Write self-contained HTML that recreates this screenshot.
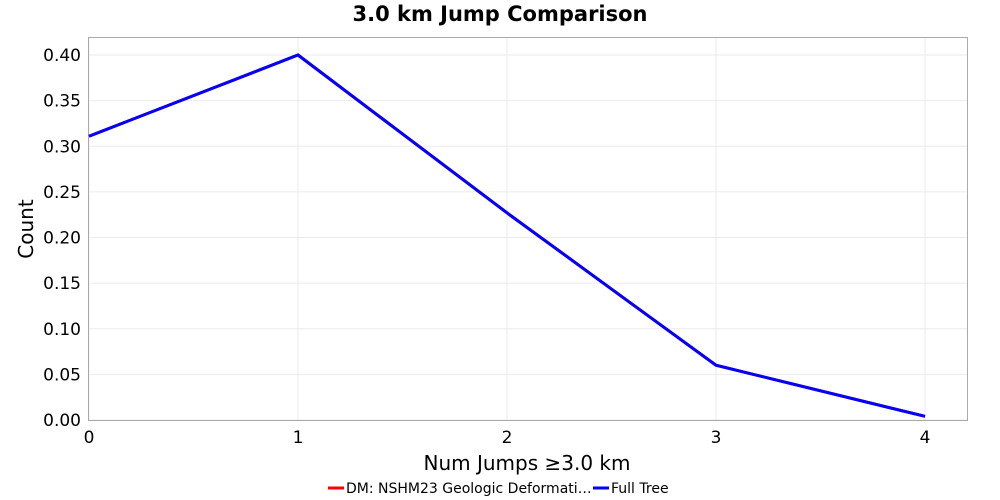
<!DOCTYPE html>
<html><head><meta charset="utf-8"><style>
body{margin:0;background:#fff;}
svg{display:block;font-family:"DejaVu Sans","Liberation Sans",sans-serif;}
</style></head><body>
<svg id="chart" width="1000" height="500">
<text x="500" y="21" text-anchor="middle" font-weight="bold" font-size="21">3.0 km Jump Comparison</text>
<g id="grid"></g>
<rect x="88.5" y="37.5" width="879" height="383" fill="none" stroke="#aaa"/>
<g id="yt"></g>
<g id="xt"></g>
<g id="series"></g>
<text transform="translate(33,229) rotate(-90)" text-anchor="middle" font-size="20">Count</text>
<text x="527" y="470" text-anchor="middle" font-size="20">Num Jumps ≥3.0 km</text>
<g>
<g><line x1="328" y1="488" x2="344" y2="488" stroke="#f00" stroke-width="3"/><text x="346" y="493" font-size="14">DM: NSHM23 Geologic Deformati…</text></g>
<g><line x1="593" y1="488" x2="609" y2="488" stroke="#00f" stroke-width="3"/><text x="611" y="493" font-size="14">Full Tree</text></g>
</g>
</svg>
<script>
const xCats=[0,1,2,3,4];
const dmValues=[0.311,0.400,0.227,0.060,0.004];
const fullTreeValues=[0.311,0.400,0.227,0.060,0.004];
const yTicks=[0,0.05,0.10,0.15,0.20,0.25,0.30,0.35,0.40];
const xTicks=[0,1,2,3,4];
const NS="http://www.w3.org/2000/svg";
const X=v=>89+v*209, Y=v=>420-v*912.5;
function mk(t,a,p){const e=document.createElementNS(NS,t);for(const k in a)e.setAttribute(k,a[k]);p.appendChild(e);return e;}
const grid=document.getElementById('grid'),yt=document.getElementById('yt'),xt=document.getElementById('xt'),ser=document.getElementById('series');
yTicks.forEach(v=>{
 const l=mk('line',{x1:89,x2:967,y1:Y(v),y2:Y(v),stroke:'#ebebeb'},grid);
 
 
 const t=mk('text',{x:81,y:Y(v)+6,'text-anchor':'end','font-size':17},yt);
 t.textContent=v.toFixed(2);
 
 
});
xTicks.forEach(v=>{
 const l=mk('line',{x1:X(v),x2:X(v),y1:38,y2:420,stroke:'#ebebeb'},grid);
 
 
 const t=mk('text',{x:X(v),y:443,'text-anchor':'middle','font-size':17},xt);
 t.textContent=v;
 
 
});
const dm=mk('polyline',{points:xCats.map((c,i)=>X(c)+','+Y(dmValues[i])).join(' '),fill:'none',stroke:'#f00','stroke-width':3},ser);


const ft=mk('polyline',{points:xCats.map((c,i)=>X(c)+','+Y(fullTreeValues[i])).join(' '),fill:'none',stroke:'#00f','stroke-width':3},ser);


</script>
</body></html>
